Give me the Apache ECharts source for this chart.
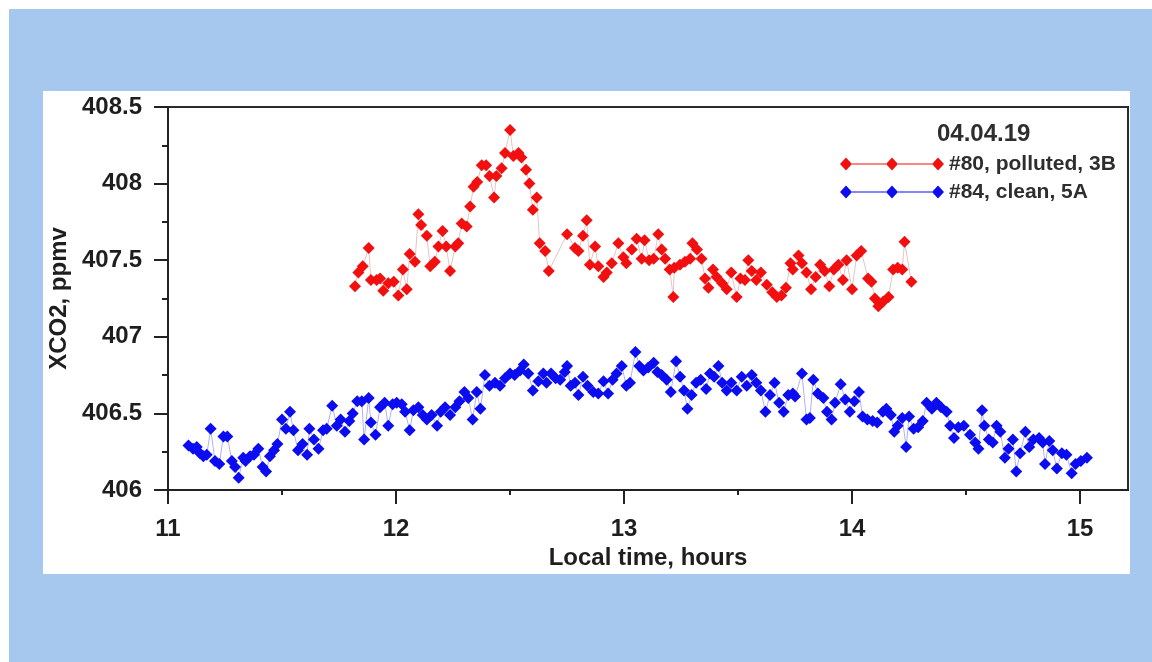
<!DOCTYPE html>
<html>
<head>
<meta charset="utf-8">
<script src="https://cdn.jsdelivr.net/npm/echarts@6/dist/echarts.min.js"></script>
<style>
  html, body { margin: 0; padding: 0; background: #ffffff; width: 1152px; height: 662px; overflow: hidden; }
  #bg { position: absolute; left: 9px; top: 9px; width: 1143px; height: 653px; background: #a7c8ee; }
  #panel { position: absolute; left: 43px; top: 91px; width: 1087px; height: 483px; background: #ffffff; }
  #chart { position: absolute; left: 0; top: 0; width: 1152px; height: 662px; }
</style>
</head>
<body>
<div id="bg"></div>
<div id="panel"></div>
<div id="chart"></div>
<script>
// ---- data ----
const seriesNames = ['#80, polluted, 3B', '#84, clean, 5A'];
const dateLabel = '04.04.19';
const xTickLabels = [11, 12, 13, 14, 15];
const xMinorTicks = [11.5, 12.5, 13.5, 14.5];

const pollutedX = [
  11.82,11.835,11.854,11.88,11.89,11.915,11.93,11.944,11.966,11.99,
  12.01,12.03,12.047,12.06,12.083,12.098,12.11,12.135,12.15,12.17,
  12.186,12.204,12.22,12.237,12.26,12.273,12.288,12.31,12.325,12.34,
  12.356,12.376,12.395,12.41,12.43,12.44,12.463,12.478,12.5,12.515,
  12.537,12.55,12.57,12.585,12.60,12.617,12.63,12.654,12.67,12.75,
  12.785,12.80,12.82,12.836,12.85,12.873,12.887,12.91,12.924,12.946,
  12.975,12.997,13.01,13.034,13.055,13.077,13.09,13.11,13.13,13.15,
  13.165,13.18,13.2,13.216,13.22,13.245,13.267,13.29,13.30,13.32,
  13.34,13.355,13.37,13.39,13.406,13.43,13.45,13.47,13.494,13.51,
  13.53,13.545,13.56,13.58,13.60,13.626,13.65,13.67,13.69,13.71,
  13.73,13.74,13.765,13.78,13.80,13.82,13.84,13.86,13.88,13.90,
  13.92,13.94,13.96,13.976,14.0,14.02,14.04,14.07,14.085,14.10,
  14.115,14.137,14.16,14.18,14.20,14.22,14.23,14.26
];
const pollutedY = [
  407.33,407.42,407.46,407.58,407.37,407.37,407.38,407.30,407.35,407.36,
  407.27,407.44,407.31,407.54,407.49,407.80,407.73,407.66,407.46,407.49,
  407.59,407.69,407.59,407.43,407.59,407.61,407.74,407.72,407.85,407.98,
  408.01,408.12,408.12,408.05,407.91,408.05,408.10,408.20,408.35,408.18,
  408.20,408.17,408.09,408.00,407.83,407.91,407.61,407.56,407.43,407.67,
  407.58,407.56,407.66,407.76,407.47,407.59,407.46,407.39,407.42,407.48,
  407.61,407.52,407.48,407.57,407.64,407.51,407.63,407.50,407.51,407.67,
  407.57,407.51,407.44,407.26,407.45,407.47,407.49,407.51,407.61,407.57,
  407.51,407.38,407.32,407.44,407.39,407.35,407.31,407.42,407.26,407.38,
  407.37,407.50,407.43,407.37,407.42,407.34,407.29,407.26,407.27,407.32,
  407.48,407.44,407.53,407.48,407.42,407.31,407.39,407.47,407.43,407.33,
  407.44,407.47,407.37,407.50,407.31,407.53,407.56,407.38,407.36,407.25,
  407.20,407.23,407.26,407.44,407.45,407.44,407.62,407.36
];

const cleanX = [
  11.09,11.11,11.126,11.14,11.155,11.17,11.187,11.206,11.225,11.243,
  11.26,11.28,11.294,11.31,11.33,11.34,11.36,11.377,11.396,11.415,
  11.43,11.447,11.465,11.48,11.50,11.517,11.535,11.55,11.57,11.59,
  11.61,11.62,11.64,11.66,11.68,11.696,11.72,11.74,11.757,11.776,
  11.795,11.81,11.83,11.85,11.86,11.88,11.89,11.91,11.93,11.95,
  11.966,11.985,12.003,12.025,12.04,12.06,12.076,12.098,12.117,12.135,
  12.156,12.18,12.196,12.215,12.237,12.26,12.278,12.30,12.317,12.336,
  12.354,12.37,12.39,
  12.41,12.434,12.456,12.478,12.50,12.52,12.544,12.56,12.58,12.60,
  12.624,12.646,12.66,12.68,12.70,12.72,12.74,12.75,12.766,12.785,
  12.80,12.82,12.84,12.865,12.887,12.91,12.93,12.95,12.967,12.99,
  13.01,13.026,13.05,13.067,13.085,13.106,13.13,13.146,13.165,13.187,
  13.205,13.228,13.246,13.263,13.278,13.296,13.316,13.336,13.36,13.377,
  13.395,13.414,13.43,13.45,13.47,13.494,13.516,13.538,13.56,13.58,
  13.60,13.62,13.64,13.66,13.68,13.70,13.72,13.74,
  13.75,13.78,13.80,13.815,13.83,13.85,13.874,13.89,13.91,13.925,
  13.95,13.97,13.99,14.01,14.03,14.046,14.067,14.09,14.11,14.135,
  14.15,14.17,14.185,14.20,14.22,14.237,14.25,14.27,14.29,14.31,
  14.327,14.35,14.37,14.39,14.415,14.43,14.447,14.466,14.49,14.517,
  14.54,14.554,14.57,14.58,14.60,14.617,14.634,14.65,14.67,14.686,
  14.705,14.72,14.737,14.76,14.777,14.795,14.82,14.836,14.846,14.865,
  14.88,14.898,14.92,14.94,14.963,14.98,15.003,15.03
];
const cleanY = [
  406.29,406.27,406.28,406.24,406.22,406.23,406.40,406.19,406.17,406.35,
  406.35,406.19,406.15,406.08,406.21,406.19,406.22,406.23,406.27,406.15,
  406.12,406.22,406.26,406.30,406.46,406.40,406.51,406.39,406.26,406.30,
  406.23,406.40,406.33,406.27,406.39,406.40,406.55,406.42,406.46,406.38,
  406.45,406.50,406.58,406.58,406.33,406.60,406.44,406.36,406.54,406.57,
  406.42,406.56,406.57,406.56,406.51,406.39,406.52,406.54,406.49,406.46,
  406.49,406.42,406.51,406.54,406.49,406.54,406.58,406.64,406.60,406.46,
  406.64,406.53,406.75,
  406.68,406.70,406.68,406.73,406.76,406.75,406.78,406.82,406.76,406.65,
  406.71,406.76,406.70,406.76,406.73,406.72,406.77,406.81,406.68,406.70,
  406.62,406.74,406.68,406.64,406.63,406.71,406.63,406.72,406.76,406.81,
  406.68,406.70,406.90,406.81,406.78,406.80,406.83,406.77,406.75,406.72,
  406.64,406.84,406.74,406.65,406.53,406.62,406.70,406.72,406.66,406.76,
  406.74,406.81,406.70,406.65,406.70,406.65,406.74,406.68,406.75,406.70,
  406.65,406.51,406.62,406.70,406.57,406.51,406.62,406.63,
  406.61,406.76,406.46,406.47,406.72,406.63,406.60,406.51,406.46,406.57,
  406.69,406.59,406.51,406.58,406.64,406.48,406.46,406.45,406.44,406.51,
  406.53,406.49,406.38,406.42,406.47,406.28,406.48,406.40,406.41,406.45,
  406.57,406.53,406.57,406.54,406.51,406.42,406.34,406.41,406.42,406.36,
  406.31,406.27,406.52,406.42,406.33,406.31,406.42,406.38,406.21,406.27,
  406.33,406.12,406.24,406.38,406.28,406.33,406.34,406.31,406.17,406.32,
  406.26,406.14,406.24,406.23,406.11,406.17,406.19,406.21
];

// ---- chart ----
const FONT = '"Liberation Sans", Arial, sans-serif';
const AXIS_COLOR = '#222222';
const TEXT_COLOR = '#1e1e1e';
const zip = (xs, ys) => xs.map((x, i) => [x, ys[i]]);

const LEGEND_ICON = 'path://M0,6.5L6,0L12,6.5L6,13Z M46,6.5L52,0L58,6.5L52,13Z M92,6.5L98,0L104,6.5L98,13Z M12,6L46,6L46,7L12,7Z M58,6L92,6L92,7L58,7Z';

const chart = echarts.init(document.getElementById('chart'), null, { renderer: 'canvas' });
const axisLineStyle = { color: AXIS_COLOR, width: 2 };

chart.setOption({
  animation: false,
  backgroundColor: 'transparent',
  textStyle: { fontFamily: FONT },
  grid: {
    left: 168, right: 24, top: 107, bottom: 172,
    show: true, borderColor: '#2b2b2b', borderWidth: 2, backgroundColor: 'transparent'
  },
  title: {
    text: dateLabel, left: 937, top: 122, padding: 0,
    textStyle: { fontFamily: FONT, fontSize: 24, fontWeight: 'bold', color: '#2e2e2e' }
  },
  legend: {
    orient: 'vertical', left: 840, top: 153, padding: 0, itemGap: 6,
    itemWidth: 104, itemHeight: 13, icon: LEGEND_ICON,
    textStyle: { fontFamily: FONT, fontSize: 21, fontWeight: 'bold', color: '#2e2e2e', lineHeight: 22 },
    data: seriesNames
  },
  xAxis: [{
    type: 'value', min: 11, max: 15.21, interval: 1, position: 'bottom',
    axisLine: { show: true, onZero: false, lineStyle: axisLineStyle },
    axisTick: { show: true, inside: false, length: 14, lineStyle: axisLineStyle, customValues: xTickLabels },
    axisLabel: { customValues: xTickLabels, margin: 27, fontFamily: FONT, fontSize: 24, fontWeight: 'bold', color: TEXT_COLOR },
    splitLine: { show: false },
    name: 'Local time, hours', nameLocation: 'middle', nameGap: 56,
    nameTextStyle: { fontFamily: FONT, fontSize: 24, fontWeight: 'bold', color: TEXT_COLOR }
  }, {
    type: 'value', min: 11, max: 15.21, interval: 0.5, position: 'bottom',
    axisLine: { show: false },
    axisTick: { show: true, inside: false, length: 5, lineStyle: axisLineStyle, customValues: xMinorTicks },
    axisLabel: { show: false },
    splitLine: { show: false }
  }],
  yAxis: {
    type: 'value', min: 406, max: 408.5, interval: 0.5,
    axisLine: { show: true, onZero: false, lineStyle: axisLineStyle },
    axisTick: { show: true, inside: false, length: 14, lineStyle: axisLineStyle },
    minorTick: { show: true, splitNumber: 2, length: 6, lineStyle: axisLineStyle },
    axisLabel: { margin: 26, fontFamily: FONT, fontSize: 24, fontWeight: 'bold', color: TEXT_COLOR },
    splitLine: { show: false },
    minorSplitLine: { show: false },
    name: 'XCO2, ppmv', nameLocation: 'middle', nameGap: 96,
    nameTextStyle: { fontFamily: FONT, fontSize: 24, fontWeight: 'bold', color: TEXT_COLOR }
  },
  series: [{
    type: 'line', name: seriesNames[0], xAxisIndex: 0,
    data: zip(pollutedX, pollutedY),
    symbol: 'diamond', symbolSize: [12, 12], showAllSymbol: true,
    itemStyle: { color: '#f20f0f' },
    lineStyle: { color: '#e9c2c2', width: 1 },
    emphasis: { disabled: true }
  }, {
    type: 'line', name: seriesNames[1], xAxisIndex: 0,
    data: zip(cleanX, cleanY),
    symbol: 'diamond', symbolSize: [12, 12], showAllSymbol: true,
    itemStyle: { color: '#0c0cf0' },
    lineStyle: { color: '#aeb2f0', width: 1 },
    emphasis: { disabled: true }
  }]
});
</script>
</body>
</html>
